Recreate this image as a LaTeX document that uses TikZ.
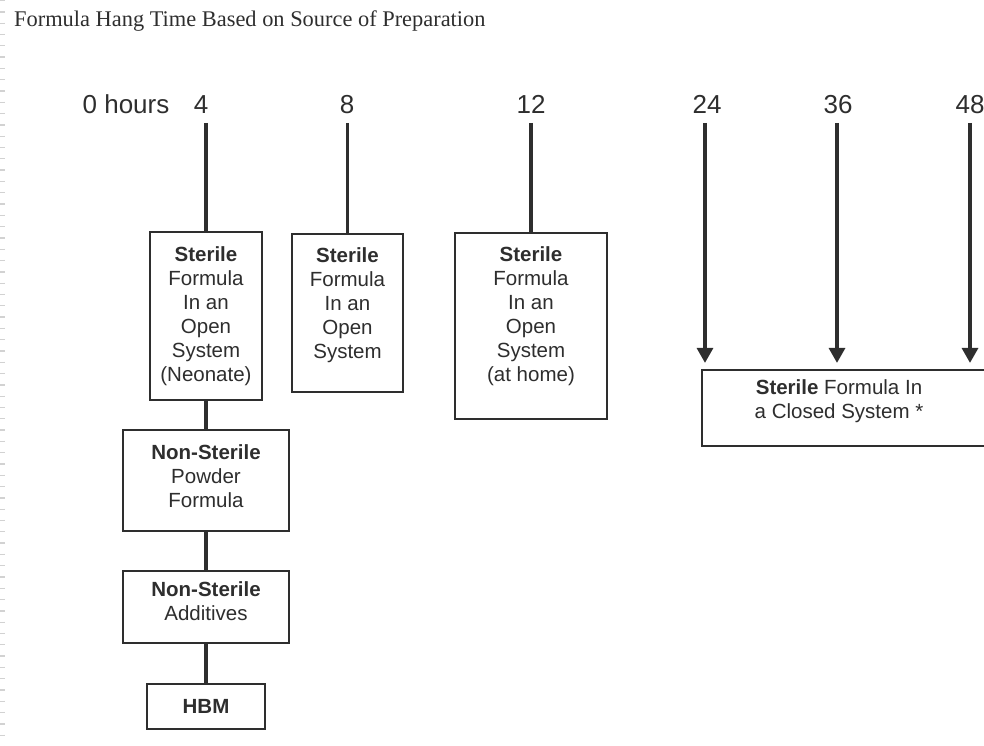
\documentclass[tikz,border=0pt]{standalone}
\usepackage{fontspec}
\setmainfont{Liberation Serif}
\setsansfont{Liberation Sans}
\usetikzlibrary{arrows.meta}
\definecolor{ink}{HTML}{2E2E2E}
\begin{document}
\begin{tikzpicture}[x=1pt,y=-1pt,
  box/.style={draw=ink, line width=2.2pt, inner sep=0pt, fill=white},
  lbl/.style={font=\sffamily\fontsize{20.5}{24}\selectfont, text=ink, align=center, inner sep=0pt},
  tick/.style={font=\sffamily\fontsize{26}{30}\selectfont, text=ink, inner sep=0pt, anchor=base},
  conn/.style={draw=ink, line width=3.2pt},
  arr/.style={conn, -{Triangle[length=15pt,width=16pt]}, shorten >=6pt}]
\useasboundingbox (0,0) rectangle (984,746);
\clip (0,0) rectangle (984,746);
% page edge marks
\draw[gray!35, line width=5pt, dash pattern=on 1.3pt off 10pt] (2.5,0) -- (2.5,746);
% title
\node[anchor=base west, font=\fontsize{22.4}{26}\selectfont, text=ink, inner sep=0pt] (title) at (14,27) {Formula Hang Time Based on Source of Preparation};
% time labels
\node[tick] (l0) at (126,114) {0 hours};
\node[tick] (l4) at (201,114) {4};
\node[tick] (l8) at (347,114) {8};
\node[tick] (l12) at (531,114) {12};
\node[tick] (l24) at (707,114) {24};
\node[tick] (l36) at (838,114) {36};
\node[tick] (l48) at (970,114) {48};
\coordinate (c4) at (206,123);
\coordinate (c8) at (347.5,123);
\coordinate (c12) at (531,123);
\coordinate (c24) at (705,123);
\coordinate (c36) at (837,123);
\coordinate (c48) at (970,123);
% boxes
\node[box, minimum width=112pt, minimum height=168pt] (b1) at (206,316) {};
\node[box, minimum width=111pt, minimum height=158pt] (b8) at (347.5,313) {};
\node[box, minimum width=152pt, minimum height=186pt] (b12) at (531,326) {};
\node[box, minimum width=166pt, minimum height=101pt] (b2) at (206,480.5) {};
\node[box, minimum width=166pt, minimum height=72pt] (b3) at (206,607) {};
\node[box, minimum width=118pt, minimum height=45pt] (b4) at (206,706.5) {};
\node[box, minimum width=298pt, minimum height=76pt] (bc) at (851,408) {};
% texts
\node[lbl, anchor=north] (t1) at (206,246) {\textbf{Sterile}\\Formula\\In an\\Open\\System\\(Neonate)};
\node[lbl, anchor=north] (t8) at (347.5,247) {\textbf{Sterile}\\Formula\\In an\\Open\\System};
\node[lbl, anchor=north] (t12) at (531,246) {\textbf{Sterile}\\Formula\\In an\\Open\\System\\(at home)};
\node[lbl] (t2) at (206,476) {\textbf{Non-Sterile}\\Powder\\Formula};
\node[lbl] (t3) at (206,601) {\textbf{Non-Sterile}\\Additives};
\node[lbl] (t4) at (206,706) {\textbf{HBM}};
\node[lbl] (tc) at (839,401) {\textbf{Sterile} Formula In\\a Closed System *};
% connectors
\draw[conn] (c4) -- (b1.north);
\draw[conn] (c8) -- (b8.north);
\draw[conn] (c12) -- (b12.north);
\draw[conn] (b1.south) -- (b2.north);
\draw[conn] (b2.south) -- (b3.north);
\draw[conn] (b3.south) -- (b4.north);
\draw[arr] (c24) -- (c24 |- bc.north);
\draw[arr] (c36) -- (c36 |- bc.north);
\draw[arr] (c48) -- (c48 |- bc.north);
\end{tikzpicture}
\end{document}
